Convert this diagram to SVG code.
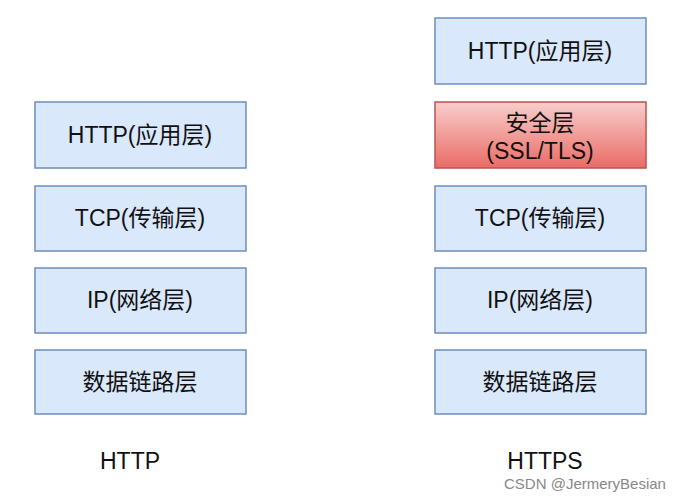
<svg xmlns="http://www.w3.org/2000/svg" width="680" height="501" viewBox="0 0 680 501">
<style>
.b{fill:#dae8fc;stroke:#6c8ebf;stroke-width:1.5}
.r{fill:url(#g);stroke:#b85450;stroke-width:1.5}
text{font-family:"Liberation Sans","Noto Sans CJK SC",sans-serif;font-size:23px;fill:#111;text-anchor:middle}
.w{font-size:15px;fill:#888}
</style>
<defs><linearGradient id="g" x1="0" y1="0" x2="0" y2="1"><stop offset="0" stop-color="#f8cecc"/><stop offset="1" stop-color="#ea6b66"/></linearGradient></defs>
<rect width="680" height="501" fill="#fff"/>
<g id="l1"><rect class="b" x="35" y="102" width="211" height="66"/><text x="140" y="143">HTTP(应用层)</text></g>
<g id="l2"><rect class="b" x="35" y="186" width="211" height="65"/><text x="140" y="226">TCP(传输层)</text></g>
<g id="l3"><rect class="b" x="35" y="268" width="211" height="65"/><text x="140" y="308">IP(网络层)</text></g>
<g id="l4"><rect class="b" x="35" y="350" width="211" height="64"/><text x="140" y="390">数据链路层</text></g>
<g id="r0"><rect class="b" x="435" y="18" width="211" height="66"/><text x="540" y="59">HTTP(应用层)</text></g>
<g id="r1"><rect class="r" x="435" y="102" width="211" height="66"/><text x="540" y="131">安全层</text><text x="540" y="159">(SSL/TLS)</text></g>
<g id="r2"><rect class="b" x="435" y="186" width="211" height="65"/><text x="540" y="226">TCP(传输层)</text></g>
<g id="r3"><rect class="b" x="435" y="268" width="211" height="65"/><text x="540" y="308">IP(网络层)</text></g>
<g id="r4"><rect class="b" x="435" y="350" width="211" height="64"/><text x="540" y="390">数据链路层</text></g>
<g id="connectors"/>
<text x="130" y="469">HTTP</text>
<text x="545" y="469">HTTPS</text>
<text class="w" x="585" y="489">CSDN @JermeryBesian</text>
</svg>
